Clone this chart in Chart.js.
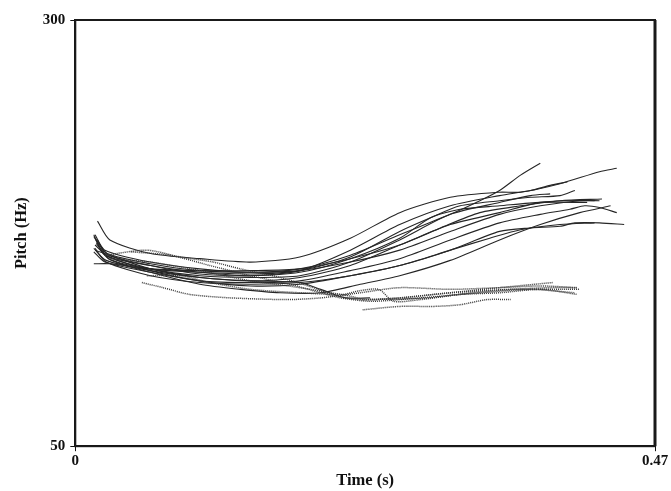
<!DOCTYPE html>
<html>
<head>
<meta charset="utf-8">
<script src="https://cdn.jsdelivr.net/npm/chart.js@4/dist/chart.umd.min.js"></script>
<style>
  html, body { margin: 0; padding: 0; background: #fff; }
  #wrap { width: 671px; height: 491px; }
</style>
</head>
<body>
<div id="wrap"><canvas id="pitch"></canvas></div>
<script>
// pitch contours, [time (s), pitch (Hz)]
// solid = rising contours
const rise1 = [[0.018,182],[0.028,171],[0.061,163],[0.101,160],[0.142,158],[0.182,161],[0.223,172],[0.263,187],[0.304,196],[0.344,199],[0.361,199],[0.393,204],[0.425,211],[0.439,213]];
const rise2 = [[0.016,174],[0.024,165],[0.061,158],[0.101,154],[0.142,152],[0.182,154],[0.223,162],[0.263,174],[0.304,186],[0.328,194],[0.344,200],[0.361,209],[0.377,216]];
const rise3 = [[0.015,174],[0.024,162],[0.061,156],[0.101,152],[0.142,150],[0.182,153],[0.223,165],[0.263,180],[0.304,191],[0.344,197],[0.369,200],[0.385,203],[0.399,205]];
const rise4 = [[0.016,168],[0.027,161],[0.061,154],[0.101,150],[0.142,149],[0.182,150],[0.223,158],[0.263,171],[0.304,186],[0.344,193],[0.369,197],[0.385,198]];
const rise5 = [[0.015,166],[0.025,159],[0.061,153],[0.101,149],[0.142,147],[0.182,149],[0.223,156],[0.263,168],[0.296,178],[0.328,187],[0.361,191],[0.393,194],[0.427,195]];
const rise6 = [[0.019,169],[0.027,162],[0.061,156],[0.101,151],[0.142,150],[0.182,152],[0.223,160],[0.263,172],[0.288,184],[0.312,189],[0.344,191],[0.377,193],[0.415,193]];
const rise7 = [[0.015,164],[0.024,158],[0.061,152],[0.101,147],[0.142,146],[0.182,147],[0.223,153],[0.263,160],[0.304,171],[0.344,181],[0.377,186],[0.401,189],[0.413,191],[0.425,190],[0.439,187]];
const rise8 = [[0.016,166],[0.025,158],[0.061,150],[0.101,146],[0.142,145],[0.182,146],[0.223,150],[0.263,156],[0.304,165],[0.344,176],[0.369,178],[0.393,179],[0.405,181],[0.425,181],[0.445,180]];
const rise9 = [[0.015,157],[0.028,157],[0.061,154],[0.101,153],[0.142,153],[0.182,154],[0.223,160],[0.263,168],[0.304,180],[0.344,187],[0.377,193],[0.401,194],[0.421,194]];
const rise10 = [[0.016,172],[0.026,163],[0.061,157],[0.101,153],[0.142,152],[0.182,153],[0.223,158],[0.263,165],[0.304,176],[0.344,186],[0.377,191],[0.409,194],[0.425,194]];
const rise11 = [[0.018,171],[0.027,160],[0.061,152],[0.101,145],[0.134,142],[0.166,140],[0.199,140],[0.231,145],[0.263,150],[0.304,159],[0.344,171],[0.377,180],[0.409,187],[0.434,191]];
const rise12 = [[0.015,173],[0.025,162],[0.061,153],[0.101,147],[0.142,144],[0.182,145],[0.223,150],[0.263,156],[0.304,165],[0.336,172],[0.361,177],[0.393,180],[0.421,181]];
const rise13 = [[0.016,165],[0.061,154],[0.101,149],[0.142,147],[0.182,146],[0.199,142],[0.219,137],[0.239,137]];
const rise14 = [[0.017,169],[0.027,160],[0.061,154],[0.101,152],[0.142,151],[0.182,153],[0.223,161],[0.263,176],[0.288,184],[0.312,191],[0.344,194],[0.369,196],[0.393,197],[0.405,200]];

// dotted = flat / falling contours
const flat1 = [[0.054,146],[0.071,143],[0.093,139],[0.126,137],[0.172,136],[0.199,137],[0.231,140],[0.263,143],[0.304,142],[0.344,143],[0.377,144],[0.407,143]];
const flat2 = [[0.058,150],[0.085,150],[0.109,146],[0.142,142],[0.182,140],[0.217,139],[0.229,141],[0.246,142],[0.258,135],[0.280,136],[0.312,139],[0.344,140],[0.377,142],[0.407,139]];
const flat3 = [[0.024,162],[0.058,165],[0.085,161],[0.112,158],[0.134,154],[0.166,149],[0.193,143],[0.207,139],[0.231,136],[0.263,137],[0.304,140],[0.344,143],[0.387,146]];
const flat4 = [[0.028,160],[0.061,158],[0.101,153],[0.142,147],[0.182,143],[0.223,138],[0.235,136],[0.263,137],[0.304,140],[0.353,142],[0.393,142],[0.409,142]];
const flat5 = [[0.233,130],[0.263,132],[0.291,132],[0.312,133],[0.334,136],[0.353,136]];
const flat6 = [[0.239,136],[0.288,137],[0.320,140],[0.353,142],[0.385,143],[0.407,143]];
const flat7 = [[0.045,164],[0.077,162],[0.109,156],[0.142,150],[0.174,145],[0.199,140],[0.215,137],[0.239,135],[0.263,136],[0.296,138],[0.328,140],[0.369,142],[0.405,140]];

const risingContours = [rise1, rise2, rise3, rise4, rise5, rise6, rise7, rise8, rise9, rise10, rise11, rise12, rise13, rise14];
const flatContours = [flat1, flat2, flat3, flat4, flat5, flat6, flat7];

const timeTicks = [0, 0.47];
const timeLabels = ['0', '0.47'];
const pitchTicks = [50, 300];

const tickFont = { family: '"Liberation Serif", "Times New Roman", serif', size: 15, weight: 'bold' };
const titleFont = { family: '"Liberation Serif", "Times New Roman", serif', size: 16.5, weight: 'bold' };

function toPoints(c) {
    return c.map(p => ({ x: p[0], y: p[1] }));
}

let datasets = [];
flatContours.forEach((c, i) => {
    datasets.push({
        label: 'flat ' + (i + 1),
        data: toPoints(c),
        borderColor: '#3a3a3a',
        borderWidth: 1.5,
        borderDash: [1, 1],
        pointRadius: 0,
        tension: 0.25
    });
});
risingContours.forEach((c, i) => {
    datasets.push({
        label: 'rise ' + (i + 1),
        data: toPoints(c),
        borderColor: '#262626',
        borderWidth: 1.1,
        pointRadius: 0,
        tension: 0.25
    });
});

// box round the plot area
const frame = {
    id: 'frame',
    afterDraw(chart) {
        const a = chart.chartArea;
        const ctx = chart.ctx;
        ctx.save();
        ctx.strokeStyle = '#1a1a1a';
        ctx.lineWidth = 2;
        ctx.strokeRect(a.left, a.top, a.right - a.left, a.bottom - a.top);
        ctx.lineWidth = 3;
        ctx.beginPath();
        ctx.moveTo(a.right, a.top);
        ctx.lineTo(a.right, a.bottom);
        ctx.stroke();
        ctx.restore();
    }
};

const config = {
    type: 'line',
    data: { datasets: datasets },
    options: {
        responsive: true,
        maintainAspectRatio: false,
        animation: false,
        layout: { padding: { left: 12, right: 16, top: 20, bottom: 0 } },
        plugins: {
            legend: { display: false },
            tooltip: { enabled: false }
        },
        scales: {
            x: {
                type: 'linear',
                min: 0,
                max: 0.47,
                afterBuildTicks: axis => { axis.ticks = timeTicks.map(v => ({ value: v })); },
                ticks: {
                    color: '#111', font: tickFont, maxRotation: 0, padding: 1,
                    callback: (v, i) => timeLabels[i]
                },
                grid: { drawOnChartArea: false, drawTicks: true, tickLength: 5, color: '#111' },
                border: { display: true, color: '#111', width: 2 },
                title: { display: true, text: 'Time (s)', color: '#111', font: titleFont, padding: { top: 0, bottom: 0 } }
            },
            y: {
                type: 'linear',
                min: 50,
                max: 300,
                afterBuildTicks: axis => { axis.ticks = pitchTicks.map(v => ({ value: v })); },
                ticks: { color: '#111', font: tickFont, padding: 5 },
                grid: { drawOnChartArea: false, drawTicks: true, tickLength: 5, color: '#111' },
                border: { display: true, color: '#111', width: 2 },
                title: { display: true, text: 'Pitch (Hz)', color: '#111', font: titleFont, padding: { top: 0, bottom: 6 } }
            }
        }
    },
    plugins: [frame]
};

let ctx = document.getElementById('pitch').getContext('2d');
new Chart(ctx, config);
</script>
</body>
</html>
